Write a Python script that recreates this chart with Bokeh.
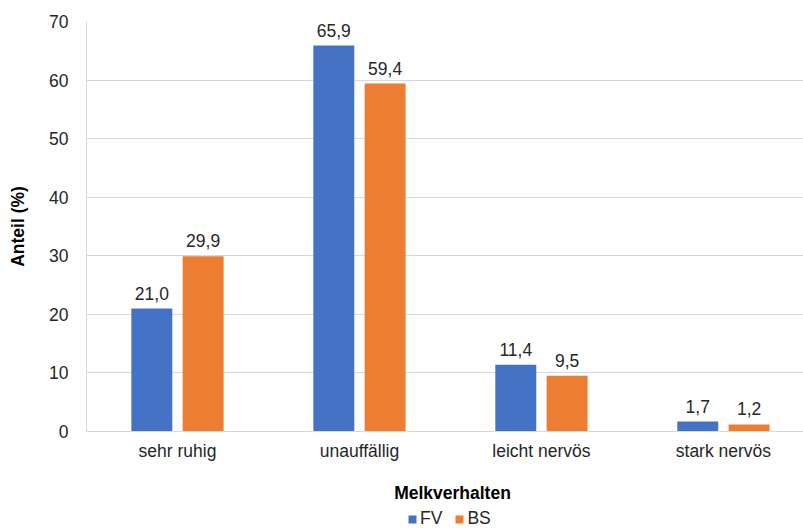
from bokeh.plotting import figure
from bokeh.models import ColumnDataSource, Range1d, FixedTicker, Legend, LegendItem
from bokeh.layouts import column
from bokeh.core.properties import value
from bokeh.embed import file_html
from bokeh.resources import INLINE

categories = ["sehr ruhig", "unauffällig", "leicht nervös", "stark nervös"]
fv = [21.0, 65.9, 11.4, 1.7]
bs = [29.9, 59.4, 9.5, 1.2]
series_names = ["FV", "BS"]
x_title = "Melkverhalten"
y_title = "Anteil (%)"

FONT = "Liberation Sans"
FS = "17.5px"
BLUE = "#4472C4"
ORANGE = "#ED7D31"

centers = [i + 0.5 for i in range(len(categories))]
off = 0.141
bw = 0.225

def fmt(v):
    return f"{v:.1f}".replace(".", ",")

src_fv = ColumnDataSource(dict(x=[c - off for c in centers], top=fv, lab=[fmt(v) for v in fv]))
src_bs = ColumnDataSource(dict(x=[c + off for c in centers], top=bs, lab=[fmt(v) for v in bs]))

p = figure(width=803, height=470, output_backend="svg", toolbar_location=None,
           x_range=Range1d(0, 3.94), y_range=Range1d(0, 70),
           min_border_left=86, min_border_right=0, min_border_top=21, min_border_bottom=39)
p.outline_line_color = None
p.background_fill_color = "white"

p.vbar(x="x", top="top", width=bw, source=src_fv, color=BLUE, line_color=None)
p.vbar(x="x", top="top", width=bw, source=src_bs, color=ORANGE, line_color=None)

for s in (src_fv, src_bs):
    p.text(x="x", y="top", text="lab", source=s, text_align="center", text_baseline="bottom",
           y_offset=-9, text_font=value(FONT), text_font_size=FS, text_color="#262626")

p.xaxis.ticker = FixedTicker(ticks=centers)
p.xaxis.major_label_overrides = {c: n for c, n in zip(centers, categories)}
p.xaxis.major_tick_line_color = None
p.xaxis.minor_tick_line_color = None
p.xaxis.axis_line_color = "#D9D9D9"
p.xaxis.major_label_text_font = FONT
p.xaxis.major_label_text_font_size = FS
p.xaxis.major_label_text_color = "#262626"
p.xaxis.major_label_standoff = 3

p.yaxis.ticker = FixedTicker(ticks=list(range(0, 71, 10)))
p.yaxis.major_tick_line_color = None
p.yaxis.minor_tick_line_color = None
p.yaxis.axis_line_color = "#D9D9D9"
p.yaxis.major_label_text_font = FONT
p.yaxis.major_label_text_font_size = FS
p.yaxis.major_label_text_color = "#262626"
p.yaxis.major_label_standoff = 12
p.yaxis.axis_label = y_title
p.yaxis.axis_label_text_font = FONT
p.yaxis.axis_label_text_font_size = FS
p.yaxis.axis_label_text_font_style = "bold"
p.yaxis.axis_label_text_color = "#000000"
p.yaxis.axis_label_standoff = 18

p.xgrid.grid_line_color = None
p.ygrid.grid_line_color = "#D9D9D9"
p.ygrid.grid_line_width = 1

# bottom strip: x-axis title and legend (frame aligned with main plot frame)
p2 = figure(width=803, height=59, output_backend="svg", toolbar_location=None,
            x_range=Range1d(86, 803), y_range=Range1d(0, 59),
            x_axis_type=None, y_axis_type=None, min_border=0)
p2.outline_line_color = None
p2.xgrid.grid_line_color = None
p2.ygrid.grid_line_color = None
p2.text(x=[452], y=[37], text=[x_title], text_align="center", text_baseline="middle",
        text_font=value(FONT), text_font_size=FS, text_font_style="bold", text_color="#000000")
# hidden placeholder renderers (outside the visible range) for the legend swatches
d1 = p2.vbar(x=[-1000], top=[0], width=1, color=BLUE, line_color=None)
d2 = p2.vbar(x=[-1000], top=[0], width=1, color=ORANGE, line_color=None)
legend = Legend(items=[LegendItem(label=series_names[0], renderers=[d1]),
                       LegendItem(label=series_names[1], renderers=[d2])],
                orientation="horizontal", location=(321, 0),
                label_text_font=FONT, label_text_font_size=FS, label_text_color="#262626",
                glyph_width=10, glyph_height=10, spacing=12, padding=0, margin=0,
                label_standoff=3, border_line_color=None, background_fill_alpha=0)
p2.add_layout(legend, "center")

open("out.html", "w").write(file_html(column(p, p2, spacing=0), INLINE))
